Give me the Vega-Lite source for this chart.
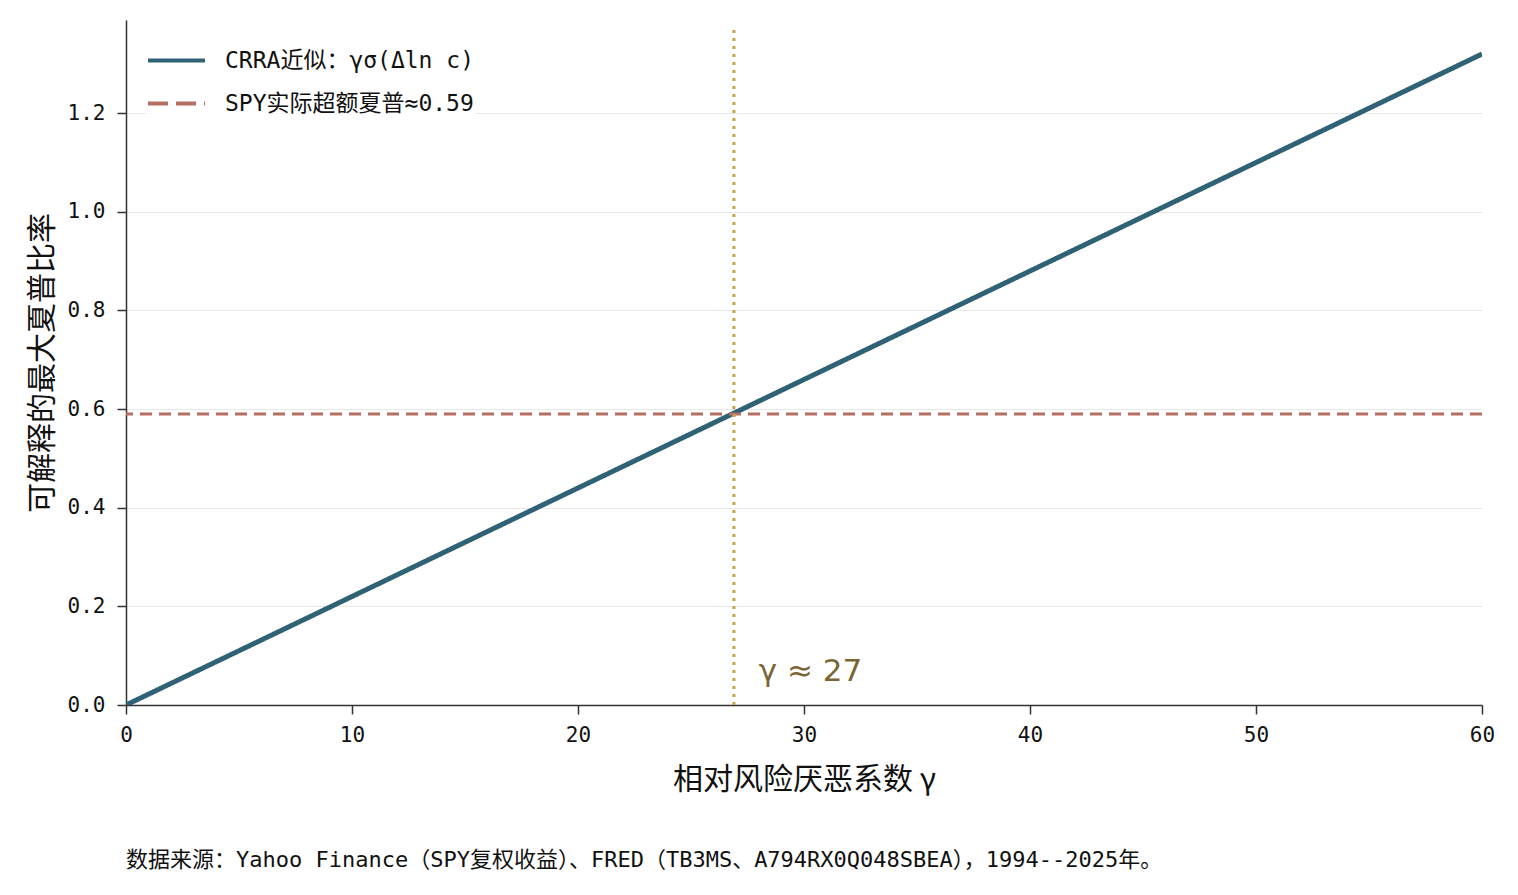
{
  "$schema": "https://vega.github.io/schema/vega-lite/v6.json",
  "width": 1356,
  "height": 685,
  "autosize": "none",
  "padding": {"left": 126, "top": 20, "right": 36, "bottom": 190},
  "background": "white",
  "config": {
    "font": "Noto Sans CJK SC",
    "view": {"stroke": null}
  },
  "title": {
    "text": "数据来源：Yahoo Finance（SPY复权收益）、FRED（TB3MS、A794RX0Q048SBEA），1994--2025年。",
    "orient": "bottom",
    "anchor": "start",
    "frame": "group",
    "offset": 56,
    "font": "DejaVu Sans Mono, Noto Sans CJK SC",
    "fontSize": 22,
    "fontWeight": "normal",
    "color": "#111111"
  },
  "datasets": {
    "line": [
      {"gamma": 0, "sr": 0, "series": "CRRA近似：γσ(Δln c)"},
      {"gamma": 60, "sr": 1.32, "series": "CRRA近似：γσ(Δln c)"}
    ],
    "hline": [
      {"sr": 0.59, "series": "SPY实际超额夏普≈0.59"}
    ],
    "vline": [
      {"gamma": 26.9, "y0": 0, "y1": 1.372}
    ],
    "label": [
      {"gamma": 28.0, "sr": 0.035, "text": "γ ≈ 27"}
    ]
  },
  "layer": [
    {
      "data": {"name": "line"},
      "mark": {"type": "line", "strokeWidth": 5, "clip": true},
      "encoding": {
        "x": {
          "field": "gamma", "type": "quantitative",
          "scale": {"domain": [0, 60], "nice": false, "zero": false},
          "axis": {
            "title": "相对风险厌恶系数 γ",
            "titleFont": "Noto Sans CJK SC",
            "titleFontSize": 30, "titleFontWeight": "normal", "titleColor": "#111", "titlePadding": 19,
            "labelFont": "DejaVu Sans Mono", "labelFontSize": 21, "labelColor": "#111", "labelPadding": 10,
            "labelFlush": false,
            "values": [0, 10, 20, 30, 40, 50, 60],
            "grid": false, "domainColor": "#333", "domainWidth": 1.5,
            "tickColor": "#333", "tickSize": 9, "tickWidth": 1.5
          }
        },
        "y": {
          "field": "sr", "type": "quantitative",
          "scale": {"domain": [0, 1.389], "nice": false, "zero": false},
          "axis": {
            "title": "可解释的最大夏普比率",
            "titleFont": "Noto Sans CJK SC",
            "titleFontSize": 30, "titleFontWeight": "normal", "titleColor": "#111", "titlePadding": 10,
            "labelFont": "DejaVu Sans Mono", "labelFontSize": 21, "labelColor": "#111", "labelPadding": 12, "format": ".1f",
            "labelFlush": false,
            "values": [0, 0.2, 0.4, 0.6, 0.8, 1.0, 1.2],
            "grid": true, "gridColor": "#e8e8e8", "gridWidth": 1.2,
            "domainColor": "#333", "domainWidth": 1.5,
            "tickColor": "#333", "tickSize": 9, "tickWidth": 1.5
          }
        },
        "color": {
          "field": "series", "type": "nominal",
          "scale": {"domain": ["CRRA近似：γσ(Δln c)", "SPY实际超额夏普≈0.59"], "range": ["#2f6275", "#b56e62"]},
          "legend": {
            "title": null, "orient": "none", "legendX": 20, "legendY": 10,
            "symbolType": "M-1,0L1,0", "symbolSize": 3249, "symbolStrokeWidth": 4,
            "labelFont": "DejaVu Sans Mono, Noto Sans CJK SC",
            "labelFontSize": 23, "labelColor": "#111", "rowPadding": -1, "labelOffset": 18,
            "labelLimit": 0,
            "fillColor": "rgba(255,255,255,0.85)"
          }
        },
        "strokeDash": {
          "field": "series", "type": "nominal",
          "scale": {"domain": ["CRRA近似：γσ(Δln c)", "SPY实际超额夏普≈0.59"], "range": [[1, 0], [20, 8]]},
          "legend": null
        }
      }
    },
    {
      "data": {"name": "hline"},
      "mark": {"type": "rule", "strokeWidth": 3, "strokeDash": [12, 7]},
      "encoding": {
        "y": {"field": "sr", "type": "quantitative"},
        "color": {"field": "series", "type": "nominal"}
      }
    },
    {
      "data": {"name": "vline"},
      "mark": {"type": "rule", "strokeWidth": 3, "strokeDash": [3, 5], "color": "#c9a050"},
      "encoding": {
        "x": {"field": "gamma", "type": "quantitative"},
        "y": {"field": "y0", "type": "quantitative"},
        "y2": {"field": "y1"}
      }
    },
    {
      "data": {"name": "label"},
      "mark": {"type": "text", "align": "left", "baseline": "bottom", "fontSize": 31, "color": "#7a6535", "font": "DejaVu Sans"},
      "encoding": {
        "x": {"field": "gamma", "type": "quantitative"},
        "y": {"field": "sr", "type": "quantitative"},
        "text": {"field": "text"}
      }
    }
  ]
}
